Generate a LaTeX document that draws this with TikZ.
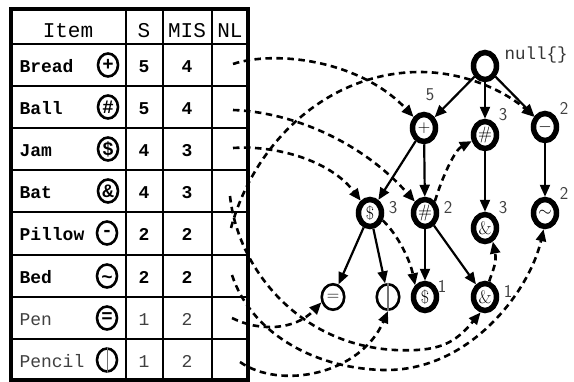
\documentclass[tikz,border=0pt]{standalone}
\usepackage{fontspec}
\newfontfamily\mono{Liberation Mono}
\usetikzlibrary{shapes.geometric, arrows.meta}

\begin{document}
\begin{tikzpicture}[x=1pt,y=-1pt,
  grid/.style={line width=2.6pt},
  frame/.style={line width=3.4pt},
  hd/.style={font=\mono\fontsize{21}{21}\selectfont, anchor=base},
  cell/.style={font=\mono\bfseries\fontsize{18}{18}\selectfont, anchor=base},
  cellL/.style={font=\mono\fontsize{18}{18}\selectfont, anchor=base, text=black!75},
  sym/.style={ellipse, draw, line width=2.6pt, minimum width=20pt, minimum height=23pt,
              inner sep=0pt, font=\mono\bfseries\fontsize{19}{19}\selectfont},
  tnode/.style={ellipse, draw, fill=white, line width=5.5pt, minimum width=23pt,
                minimum height=27pt, inner sep=0pt, font=\fontsize{18}{18}\selectfont},
  tthin/.style={tnode, line width=2.6pt, minimum width=22.5pt, minimum height=25.5pt},
  cnt/.style={font=\sffamily\fontsize{18}{18}\selectfont, text=black!75},
  edge/.style={line width=2.2pt, -{Triangle[length=12pt,width=10pt]}},
  nl/.style={line width=2.6pt, dash pattern=on 6.5pt off 4.5pt,
             -{Triangle[length=12pt,width=10pt]}}
]
\useasboundingbox (0,0) rectangle (574,381);

% ---------- header table ----------
\draw[frame] (11,9) rectangle (248,380);
\foreach \x in {126,163,212} \draw[grid] (\x,9) -- (\x,380);
\foreach \y in {44,86,128,170,212,255,297,339} \draw[grid] (11,\y) -- (248,\y);

\node[hd] (hItem) at (68,37) {Item};
\node[hd] (hS) at (144,37) {S};
\node[hd] (hMIS) at (187,37) {MIS};
\node[hd] (hNL) at (230,37) {NL};

\node[cell, anchor=base west] (tBread) at (16,72.5) {Bread};
\node[sym] (sBread) at (108,65) {+};
\node[cell] (cBreadS) at (144,72.5) {5};
\node[cell] (cBreadM) at (187,72.5) {4};

\node[cell, anchor=base west] (tBall) at (16,114.5) {Ball};
\node[sym] (sBall) at (108,107) {\#};
\node[cell] (cBallS) at (144,114.5) {5};
\node[cell] (cBallM) at (187,114.5) {4};

\node[cell, anchor=base west] (tJam) at (16,156.5) {Jam};
\node[sym] (sJam) at (108,149) {\$};
\node[cell] (cJamS) at (144,156.5) {4};
\node[cell] (cJamM) at (187,156.5) {3};

\node[cell, anchor=base west] (tBat) at (16,198.5) {Bat};
\node[sym] (sBat) at (108,191) {\&};
\node[cell] (cBatS) at (144,198.5) {4};
\node[cell] (cBatM) at (187,198.5) {3};

\node[cell, anchor=base west] (tPillow) at (16,240.5) {Pillow};
\node[sym] (sPillow) at (107,233) {-};
\node[cell] (cPillowS) at (144,240.5) {2};
\node[cell] (cPillowM) at (187,240.5) {2};

\node[cell, anchor=base west] (tBed) at (16,283.5) {Bed};
\node[sym] (sBed) at (107,276) {\raisebox{-7pt}[0pt][0pt]{\symbol{"7E}}};
\node[cell] (cBedS) at (144,283.5) {2};
\node[cell] (cBedM) at (187,283.5) {2};

\node[cellL, anchor=base west] (tPen) at (16,325.5) {Pen};
\node[sym] (sPen) at (107,318) {=};
\node[cellL] (cPenS) at (144,325.5) {1};
\node[cellL] (cPenM) at (187,325.5) {2};

\node[cellL, anchor=base west] (tPencil) at (16,367.5) {Pencil};
\node[sym] (sPencil) at (107,360) {};
\draw[black!55, line width=1pt] (sPencil.north) -- (sPencil.south);
\node[cellL] (cPencilS) at (144,367.5) {1};
\node[cellL] (cPencilM) at (187,367.5) {2};

% node-link start points in the NL column
\coordinate (nlBread) at (233,64);
\coordinate (nlBall) at (233,110);
\coordinate (nlJam) at (233,148);
\coordinate (nlBat) at (230,196);
\coordinate (nlPillow) at (231,228);
\coordinate (nlBed) at (232,275);
\coordinate (nlPen) at (232,318);
\coordinate (nlPencil) at (240,362);

% ---------- FP-tree ----------
\node[tnode] (null) at (485,66) {};
\node[font=\mono\fontsize{17.5}{17.5}\selectfont, text=black!80, anchor=west] (nullLbl) at (501,55) {null\{\}};

\node[tnode] (plus) at (424,128) {$+$};
\node[tnode] (hashT) at (485,135) {\#};
\node[tnode] (minus) at (545,127) {$-$};
\node[tnode] (dollarA) at (370,213) {\$};
\node[tnode] (hashM) at (425,213) {\#};
\node[tnode] (ampT) at (485,228) {\&};
\node[tnode] (tilde) at (545,213) {$\sim$};
\node[tthin] (eq) at (333,297) {$=$};
\node[tthin] (bar) at (388,297) {};
\draw[black!55, line width=1.2pt] (bar.north) -- (bar.south);
\node[tnode] (dollarB) at (425,297) {\$};
\node[tnode] (ampB) at (485,297) {\&};

\node[cnt] (kPlus) at (430,95) {5};
\node[cnt] (kHashT) at (503,115) {3};
\node[cnt] (kMinus) at (564,108) {2};
\node[cnt] (kDollarA) at (393,208) {3};
\node[cnt] (kHashM) at (448,207) {2};
\node[cnt] (kAmpT) at (503,208) {3};
\node[cnt] (kTilde) at (564,193) {2};
\node[cnt] (kDollarB) at (442,286) {1};
\node[cnt] (kAmpB) at (508,291) {1};

% parent -> child edges
\draw[edge] (null) -- (plus);
\draw[edge] (null) -- (hashT);
\draw[edge] (null) -- (minus);
\draw[edge] (plus) -- (dollarA);
\draw[edge] (plus) -- (hashM);
\draw[edge] (hashT) -- (ampT);
\draw[edge] (minus) -- (tilde);
\draw[edge] (dollarA) -- (eq);
\draw[edge] (dollarA) -- (bar);
\draw[edge] (hashM) -- (dollarB);
\draw[edge] (hashM) -- (ampB);

% node-links
\draw[nl] (nlBread) .. controls (275,50) and (360,60) .. (plus);
\draw[nl] (nlBall) .. controls (290,112) and (360,140) .. (hashM);
\draw[nl] (nlJam) .. controls (275,145) and (330,160) .. (dollarA);
\draw[nl] (nlPillow) .. controls (255,140) and (330,72) .. (420,72)
                     .. controls (470,72) and (510,95) .. (minus);
\draw[nl] (nlBat) .. controls (238,270) and (300,345) .. (395,350)
                  .. controls (440,352) and (455,343) .. (ampB.254);
\draw[nl] (nlBed) .. controls (250,330) and (310,368) .. (383,370)
                  .. controls (470,372) and (530,290) .. (tilde.265);
\draw[nl] (nlPen) .. controls (260,332) and (295,330) .. (eq.205);
\draw[nl] (nlPencil) .. controls (280,390) and (360,375) .. (bar.south);
\draw[nl] (dollarA.-30) .. controls (398,235) and (410,260) .. (dollarB.130);
\draw[nl] (hashM.50) .. controls (443,175) and (455,150) .. (hashT.205);
\draw[nl] (ampB.75) .. controls (493,270) and (497,262) .. (ampT.300);
\end{tikzpicture}
\end{document}
